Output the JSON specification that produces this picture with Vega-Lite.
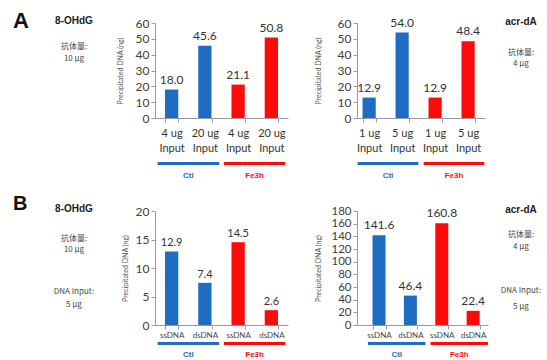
{
  "$schema": "https://vega.github.io/schema/vega-lite/v6.json",
  "padding": {"left": 13, "top": 10, "right": 0, "bottom": 0},
  "background": "white",
  "config": {
    "view": {"stroke": null},
    "font": "Lato",
    "axis": {"domainColor": "#9a9a9a", "tickColor": "#9a9a9a", "labelColor": "#404040", "titleColor": "#555555", "labelFont": "Lato", "titleFont": "Lato"},
    "text": {"font": "Lato", "color": "#333333"}
  },
  "bounds": "flush",
  "align": "none",
  "columns": 7,
  "spacing": {"row": 17, "column": 0},
  "concat": [
    {"width": 39, "height": 10, "data": {"values": [{}]}, "mark": {"type": "text"}, "encoding": {"text": {"value": ""}},
     "title": {"text": "A", "anchor": "start", "frame": "group", "font": "Liberation Sans", "fontSize": 22, "fontWeight": "bold", "color": "#111111", "offset": -11}},
    {"width": 44, "height": 10, "data": {"values": [{}]}, "mark": {"type": "text"}, "encoding": {"text": {"value": ""}},
     "title": {"text": "8-OHdG", "subtitle": ["抗体量:", "10 μg"], "anchor": "middle", "frame": "group", "font": "Liberation Sans", "fontSize": 10, "fontWeight": "bold", "color": "#222222", "subtitleFont": "Noto Sans CJK SC", "subtitleFontSize": 8, "subtitleColor": "#444444", "subtitleLineHeight": 12, "subtitlePadding": 17, "offset": -41}},
    {"width": 59, "height": 10, "data": {"values": [{}]}, "mark": {"type": "text"}, "encoding": {"text": {"value": ""}}},
    {
      "width": 133, "height": 95,
      "data": {"values": [
        {"cat": "Ctl|4 ug|Input", "group": "Ctl", "value": 18.0},
        {"cat": "Ctl|20 ug|Input", "group": "Ctl", "value": 45.6},
        {"cat": "Fe3h|4 ug|Input", "group": "Fe3h", "value": 21.1},
        {"cat": "Fe3h|20 ug|Input", "group": "Fe3h", "value": 50.8}
      ]},
      "encoding": {
        "x": {"field": "cat", "type": "nominal", "sort": null, "scale": {"paddingInner": 0.6, "paddingOuter": 0.3},
          "axis": {"title": null, "labelAngle": 0, "labelExpr": "slice(split(datum.value, '|'), 1)", "tickBand": "extent", "tickSize": 4, "labelFontSize": 11, "labelLineHeight": 15, "labelPadding": 5, "labelColor": "#333333"}},
        "y": {"field": "value", "type": "quantitative", "scale": {"domain": [0, 60], "nice": false},
          "axis": {"title": "Precipitated DNA (ng)", "values": [0, 10, 20, 30, 40, 50, 60], "grid": false, "tickSize": 4, "labelFontSize": 12, "labelPadding": 2, "labelOverlap": false, "labelFlush": false, "titleFontSize": 7, "titleFontWeight": "normal", "titlePadding": 12}}
      },
      "layer": [
        {"mark": {"type": "bar"}, "encoding": {"color": {"field": "group", "type": "nominal", "scale": {"domain": ["Ctl", "Fe3h"], "range": ["#1F6DC2", "#FF0A0A"]}, "legend": null}}},
        {"mark": {"type": "text", "baseline": "bottom", "dy": -3, "fontSize": 12}, "encoding": {"text": {"field": "value", "type": "quantitative", "format": ".1f"}}}
      ]
    },
    {"width": 69, "height": 10, "data": {"values": [{}]}, "mark": {"type": "text"}, "encoding": {"text": {"value": ""}}},
    {
      "width": 128, "height": 95,
      "data": {"values": [
        {"cat": "Ctl|1 ug|Input", "group": "Ctl", "value": 12.9},
        {"cat": "Ctl|5 ug|Input", "group": "Ctl", "value": 54.0},
        {"cat": "Fe3h|1 ug|Input", "group": "Fe3h", "value": 12.9},
        {"cat": "Fe3h|5 ug|Input", "group": "Fe3h", "value": 48.4}
      ]},
      "encoding": {
        "x": {"field": "cat", "type": "nominal", "sort": null, "scale": {"paddingInner": 0.6, "paddingOuter": 0.24, "align": 0.35},
          "axis": {"title": null, "labelAngle": 0, "labelExpr": "slice(split(datum.value, '|'), 1)", "tickBand": "extent", "tickSize": 4, "labelFontSize": 11, "labelLineHeight": 15, "labelPadding": 5, "labelColor": "#333333"}},
        "y": {"field": "value", "type": "quantitative", "scale": {"domain": [0, 60], "nice": false},
          "axis": {"title": "Precipitated DNA (ng)", "values": [0, 10, 20, 30, 40, 50, 60], "grid": false, "tickSize": 4, "labelFontSize": 12, "labelPadding": 2, "labelOverlap": false, "labelFlush": false, "titleFontSize": 7, "titleFontWeight": "normal", "titlePadding": 16}}
      },
      "layer": [
        {"mark": {"type": "bar"}, "encoding": {"color": {"field": "group", "type": "nominal", "scale": {"domain": ["Ctl", "Fe3h"], "range": ["#1F6DC2", "#FF0A0A"]}, "legend": null}}},
        {"mark": {"type": "text", "baseline": "bottom", "dy": -3, "fontSize": 12}, "encoding": {"text": {"field": "value", "type": "quantitative", "format": ".1f"}}}
      ]
    },
    {"width": 66, "height": 122, "data": {"values": [{}]}, "mark": {"type": "text"}, "encoding": {"text": {"value": ""}},
     "title": {"text": "acr-dA", "subtitle": ["抗体量:", "4 μg"], "anchor": "middle", "frame": "group", "font": "Liberation Sans", "fontSize": 10, "fontWeight": "bold", "color": "#222222", "subtitleFont": "Noto Sans CJK SC", "subtitleFontSize": 8, "subtitleColor": "#444444", "subtitleLineHeight": 11, "subtitlePadding": 22, "offset": -45}},

    {"width": 39, "height": 32, "data": {"values": [{}]}, "mark": {"type": "text"}, "encoding": {"text": {"value": ""}}},
    {"width": 44, "height": 3, "data": {"values": [{}]}, "mark": {"type": "text"}, "encoding": {"text": {"value": ""}}},
    {"width": 59, "height": 3, "data": {"values": [{}]}, "mark": {"type": "text"}, "encoding": {"text": {"value": ""}}},
    {
      "width": 133, "height": 3,
      "data": {"values": [{"group": "Ctl"}, {"group": "Fe3h"}]},
      "mark": {"type": "bar"},
      "encoding": {
        "x": {"field": "group", "type": "nominal", "sort": null, "scale": {"paddingInner": 0.07, "paddingOuter": 0.04},
          "axis": {"title": null, "domain": false, "ticks": false, "labelAngle": 0, "labelFont": "Liberation Sans", "labelFontSize": 8, "labelFontWeight": "bold", "labelPadding": 6, "labelColor": {"condition": {"test": "datum.value === 'Ctl'", "value": "#1F6DC2"}, "value": "#FF0A0A"}}},
        "color": {"field": "group", "type": "nominal", "scale": {"domain": ["Ctl", "Fe3h"], "range": ["#1F6DC2", "#FF0A0A"]}, "legend": null}
      }
    },
    {"width": 69, "height": 3, "data": {"values": [{}]}, "mark": {"type": "text"}, "encoding": {"text": {"value": ""}}},
    {
      "width": 128, "height": 3,
      "data": {"values": [{"group": "Ctl"}, {"group": "Fe3h"}]},
      "mark": {"type": "bar"},
      "encoding": {
        "x": {"field": "group", "type": "nominal", "sort": null, "scale": {"paddingInner": 0.08, "paddingOuter": 0.01},
          "axis": {"title": null, "domain": false, "ticks": false, "labelAngle": 0, "labelFont": "Liberation Sans", "labelFontSize": 8, "labelFontWeight": "bold", "labelPadding": 6, "labelColor": {"condition": {"test": "datum.value === 'Ctl'", "value": "#1F6DC2"}, "value": "#FF0A0A"}}},
        "color": {"field": "group", "type": "nominal", "scale": {"domain": ["Ctl", "Fe3h"], "range": ["#1F6DC2", "#FF0A0A"]}, "legend": null}
      }
    },
    {"width": 66, "height": 3, "data": {"values": [{}]}, "mark": {"type": "text"}, "encoding": {"text": {"value": ""}}},

    {"width": 39, "height": 10, "data": {"values": [{}]}, "mark": {"type": "text"}, "encoding": {"text": {"value": ""}},
     "title": {"text": "B", "anchor": "start", "frame": "group", "font": "Liberation Sans", "fontSize": 20, "fontWeight": "bold", "color": "#111111", "offset": -4}},
    {"width": 44, "height": 10, "data": {"values": [{}]}, "mark": {"type": "text"}, "encoding": {"text": {"value": ""}},
     "title": {"text": "8-OHdG", "subtitle": ["抗体量:", "10 μg"], "anchor": "middle", "frame": "group", "font": "Liberation Sans", "fontSize": 10, "fontWeight": "bold", "color": "#222222", "subtitleFont": "Noto Sans CJK SC", "subtitleFontSize": 8, "subtitleColor": "#444444", "subtitleLineHeight": 11.5, "subtitlePadding": 21, "offset": -44}},
    {"width": 59, "height": 10, "data": {"values": [{}]}, "mark": {"type": "text"}, "encoding": {"text": {"value": ""}}},
    {
      "width": 133, "height": 114,
      "data": {"values": [
        {"cat": "Ctl|ssDNA", "group": "Ctl", "value": 12.9},
        {"cat": "Ctl|dsDNA", "group": "Ctl", "value": 7.4},
        {"cat": "Fe3h|ssDNA", "group": "Fe3h", "value": 14.5},
        {"cat": "Fe3h|dsDNA", "group": "Fe3h", "value": 2.6}
      ]},
      "encoding": {
        "x": {"field": "cat", "type": "nominal", "sort": null, "scale": {"paddingInner": 0.6, "paddingOuter": 0.3},
          "axis": {"title": null, "labelAngle": 0, "labelExpr": "slice(split(datum.value, '|'), 1)", "tickBand": "extent", "tickSize": 4, "labelFontSize": 8, "labelPadding": 2, "labelColor": "#444444"}},
        "y": {"field": "value", "type": "quantitative", "scale": {"domain": [0, 20], "nice": false},
          "axis": {"title": "Precipitated DNA (ng)", "values": [0, 5, 10, 15, 20], "grid": false, "tickSize": 4, "labelFontSize": 12, "labelPadding": 2, "labelOverlap": false, "labelFlush": false, "titleFontSize": 7, "titleFontWeight": "normal", "titlePadding": 7}}
      },
      "layer": [
        {"mark": {"type": "bar"}, "encoding": {"color": {"field": "group", "type": "nominal", "scale": {"domain": ["Ctl", "Fe3h"], "range": ["#1F6DC2", "#FF0A0A"]}, "legend": null}}},
        {"mark": {"type": "text", "baseline": "bottom", "dy": -3, "fontSize": 11}, "encoding": {"text": {"field": "value", "type": "quantitative", "format": ".1f"}}}
      ]
    },
    {"width": 69, "height": 10, "data": {"values": [{}]}, "mark": {"type": "text"}, "encoding": {"text": {"value": ""}}},
    {
      "width": 131, "height": 114,
      "data": {"values": [
        {"cat": "Ctl|ssDNA", "group": "Ctl", "value": 141.6},
        {"cat": "Ctl|dsDNA", "group": "Ctl", "value": 46.4},
        {"cat": "Fe3h|ssDNA", "group": "Fe3h", "value": 160.8},
        {"cat": "Fe3h|dsDNA", "group": "Fe3h", "value": 22.4}
      ]},
      "encoding": {
        "x": {"field": "cat", "type": "nominal", "sort": null, "scale": {"paddingInner": 0.585, "paddingOuter": 0.38, "align": 0.65},
          "axis": {"title": null, "labelAngle": 0, "labelExpr": "slice(split(datum.value, '|'), 1)", "tickBand": "extent", "tickSize": 4, "labelFontSize": 8, "labelPadding": 2, "labelColor": "#444444"}},
        "y": {"field": "value", "type": "quantitative", "scale": {"domain": [0, 180], "nice": false},
          "axis": {"title": "Precipitated DNA (ng)", "values": [0, 20, 40, 60, 80, 100, 120, 140, 160, 180], "grid": false, "tickSize": 4, "labelFontSize": 11.5, "labelPadding": 2, "labelOverlap": false, "labelFlush": false, "titleFontSize": 7, "titleFontWeight": "normal", "titlePadding": 9}}
      },
      "layer": [
        {"mark": {"type": "bar"}, "encoding": {"color": {"field": "group", "type": "nominal", "scale": {"domain": ["Ctl", "Fe3h"], "range": ["#1F6DC2", "#FF0A0A"]}, "legend": null}}},
        {"mark": {"type": "text", "baseline": "bottom", "dy": -3, "fontSize": 12}, "encoding": {"text": {"field": "value", "type": "quantitative", "format": ".1f"}}}
      ]
    },
    {"width": 66, "height": 10, "data": {"values": [{}]}, "mark": {"type": "text"}, "encoding": {"text": {"value": ""}},
     "title": {"text": "acr-dA", "subtitle": ["抗体量:", "4 μg"], "anchor": "middle", "frame": "group", "font": "Liberation Sans", "fontSize": 10, "fontWeight": "bold", "color": "#222222", "subtitleFont": "Noto Sans CJK SC", "subtitleFontSize": 8, "subtitleColor": "#444444", "subtitleLineHeight": 12, "subtitlePadding": 16, "offset": -41}},

    {"width": 39, "height": 3, "data": {"values": [{}]}, "mark": {"type": "text"}, "encoding": {"text": {"value": ""}}},
    {"width": 44, "height": 3, "data": {"values": [{}]}, "mark": {"type": "text"}, "encoding": {"text": {"value": ""}},
     "title": {"text": "DNA Input:", "subtitle": "5 μg", "anchor": "middle", "frame": "group", "font": "Noto Sans CJK SC", "fontSize": 8, "fontWeight": "normal", "color": "#444444", "subtitleFont": "Noto Sans CJK SC", "subtitleFontSize": 8, "subtitleColor": "#444444", "subtitlePadding": 5, "offset": 29}},
    {"width": 59, "height": 3, "data": {"values": [{}]}, "mark": {"type": "text"}, "encoding": {"text": {"value": ""}}},
    {
      "width": 133, "height": 3,
      "data": {"values": [{"group": "Ctl"}, {"group": "Fe3h"}]},
      "mark": {"type": "bar"},
      "encoding": {
        "x": {"field": "group", "type": "nominal", "sort": null, "scale": {"paddingInner": 0.07, "paddingOuter": 0.04},
          "axis": {"title": null, "domain": false, "ticks": false, "labelAngle": 0, "labelFont": "Liberation Sans", "labelFontSize": 8, "labelFontWeight": "bold", "labelPadding": 5, "labelColor": {"condition": {"test": "datum.value === 'Ctl'", "value": "#1F6DC2"}, "value": "#FF0A0A"}}},
        "color": {"field": "group", "type": "nominal", "scale": {"domain": ["Ctl", "Fe3h"], "range": ["#1F6DC2", "#FF0A0A"]}, "legend": null}
      }
    },
    {"width": 69, "height": 3, "data": {"values": [{}]}, "mark": {"type": "text"}, "encoding": {"text": {"value": ""}}},
    {
      "width": 131, "height": 3,
      "data": {"values": [{"group": "Ctl"}, {"group": "Fe3h"}]},
      "mark": {"type": "bar"},
      "encoding": {
        "x": {"field": "group", "type": "nominal", "sort": null, "scale": {"paddingInner": 0.08, "paddingOuter": 0.088, "align": 1},
          "axis": {"title": null, "domain": false, "ticks": false, "labelAngle": 0, "labelFont": "Liberation Sans", "labelFontSize": 8, "labelFontWeight": "bold", "labelPadding": 5, "labelColor": {"condition": {"test": "datum.value === 'Ctl'", "value": "#1F6DC2"}, "value": "#FF0A0A"}}},
        "color": {"field": "group", "type": "nominal", "scale": {"domain": ["Ctl", "Fe3h"], "range": ["#1F6DC2", "#FF0A0A"]}, "legend": null}
      }
    },
    {"width": 66, "height": 3, "data": {"values": [{}]}, "mark": {"type": "text"}, "encoding": {"text": {"value": ""}},
     "title": {"text": "DNA Input:", "subtitle": "5 μg", "anchor": "middle", "frame": "group", "font": "Noto Sans CJK SC", "fontSize": 8, "fontWeight": "normal", "color": "#444444", "subtitleFont": "Noto Sans CJK SC", "subtitleFontSize": 8, "subtitleColor": "#444444", "subtitlePadding": 8, "offset": 27}}
  ]
}
